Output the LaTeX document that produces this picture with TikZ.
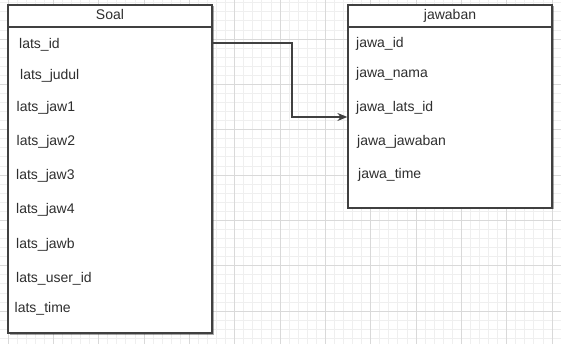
\documentclass[tikz,border=0pt]{standalone}
\usepackage{fontspec}
\setmainfont{Liberation Sans}
\usetikzlibrary{shadows,arrows.meta}
\definecolor{gridminor}{HTML}{EFEFEF}
\definecolor{gridmajor}{HTML}{D9D9D9}
\definecolor{boxline}{HTML}{404040}
\definecolor{txt}{HTML}{2E2E2E}
\tikzset{
  minorline/.style={draw=gridminor, line width=0.8pt},
  majorline/.style={draw=gridmajor, line width=0.9pt},
  tablebox/.style={draw=boxline, line width=1.3pt, fill=white, inner sep=0pt,
    drop shadow={shadow xshift=1.5pt, shadow yshift=-1.5pt, opacity=0.35, fill=black}},
  field/.style={anchor=base west, inner sep=0pt, text=txt, font=\fontsize{14}{16}\selectfont},
  title/.style={anchor=base, inner sep=0pt, text=txt, font=\fontsize{14}{16}\selectfont},
  conn/.style={draw=boxline, line width=1.1pt, -{Stealth[length=10pt,width=8pt]}}
}
\begin{document}
\begin{tikzpicture}[x=1pt,y=-1pt]
\useasboundingbox (0,0) rectangle (561,344);
\fill[white] (0,0) rectangle (561,344);
% grid
\foreach \i in {-1,...,61} {\draw[minorline] ({8+\i*9.0667},0) -- ({8+\i*9.0667},344);}
\foreach \j in {-1,...,38} {\draw[minorline] (0,{-6.3+\j*9.0667}) -- (561,{-6.3+\j*9.0667});}
\foreach \i in {-1,...,12} {\draw[majorline] ({8+\i*45.333},0) -- ({8+\i*45.333},344);}
\foreach \j in {0,...,7} {\draw[majorline] (0,{-6.3+\j*45.333}) -- (561,{-6.3+\j*45.333});}
% tables
\node[tablebox, minimum width=204pt, minimum height=328pt] (soal) at (110,169) {};
\node[tablebox, minimum width=204pt, minimum height=203pt] (jaw) at (450,106.5) {};
\draw[draw=boxline, line width=1.3pt] (soal.west |- 0,27) -- (soal.east |- 0,27);
\draw[draw=boxline, line width=1.3pt] (jaw.west |- 0,27) -- (jaw.east |- 0,27);
\node[title] (soalt) at (110,19.5) {Soal};
\node[title] (jawt) at (450,19.5) {jawaban};
% Soal fields
\node[field] (l1) at (19,49) {lats\_id};
\node[field] (l2) at (20,80) {lats\_judul};
\node[field] (l3) at (16.5,112) {lats\_jaw1};
\node[field] (l4) at (16.5,146) {lats\_jaw2};
\node[field] (l5) at (16,180) {lats\_jaw3};
\node[field] (l6) at (16,214) {lats\_jaw4};
\node[field] (l7) at (16,248) {lats\_jawb};
\node[field] (l8) at (16,282) {lats\_user\_id};
\node[field] (l9) at (14.5,312) {lats\_time};
% jawaban fields
\node[field] (j1) at (356,48) {jawa\_id};
\node[field] (j2) at (356,78) {jawa\_nama};
\node[field] (j3) at (356,112) {jawa\_lats\_id};
\node[field] (j4) at (357,146) {jawa\_jawaban};
\node[field] (j5) at (358,179) {jawa\_time};
% connector
\coordinate (start) at (212,43);
\coordinate (bend) at (292,117);
\draw[conn] (start -| soal.east) -| (bend) -- (bend -| jaw.west);
\end{tikzpicture}
\end{document}
